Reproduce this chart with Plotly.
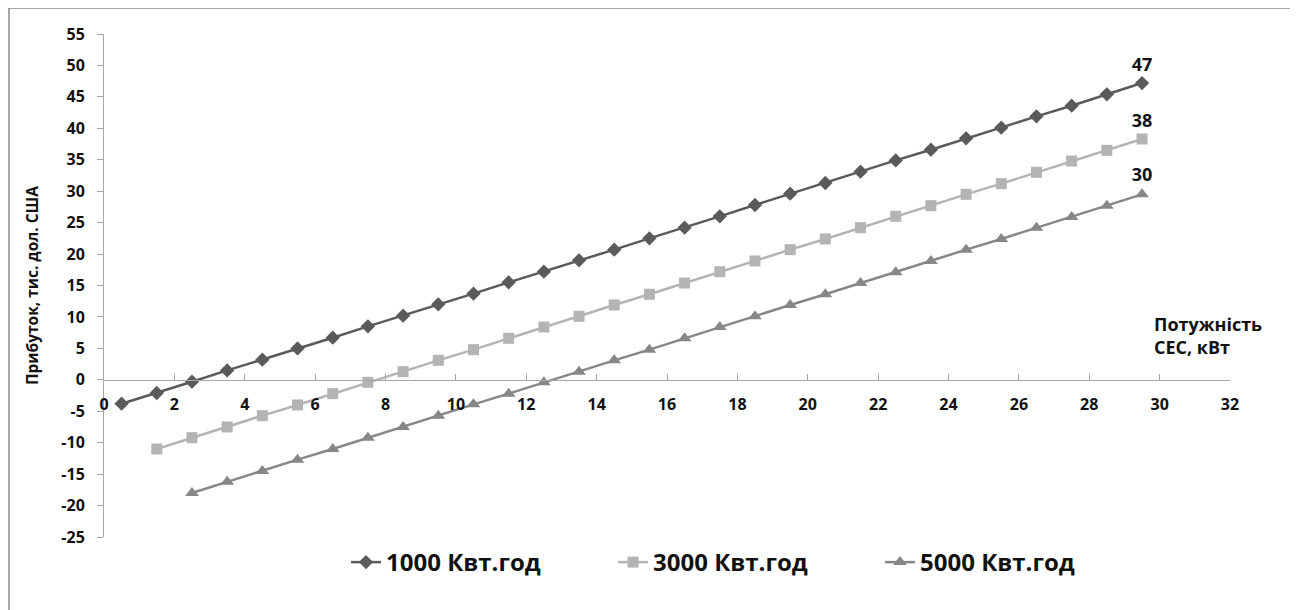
import plotly.graph_objects as go

# potужність СЕС, кВт
X_1000 = [0.5, 1.5, 2.5, 3.5, 4.5, 5.5, 6.5, 7.5, 8.5, 9.5, 10.5, 11.5, 12.5, 13.5, 14.5,
          15.5, 16.5, 17.5, 18.5, 19.5, 20.5, 21.5, 22.5, 23.5, 24.5, 25.5, 26.5, 27.5, 28.5, 29.5]
Y_1000 = [-3.8, -2.1, -0.3, 1.5, 3.2, 5.0, 6.7, 8.5, 10.2, 12.0, 13.7, 15.5, 17.2, 19.0, 20.7,
          22.5, 24.2, 26.0, 27.8, 29.6, 31.3, 33.1, 34.9, 36.6, 38.4, 40.1, 41.9, 43.6, 45.4, 47.2]

X_3000 = X_1000[1:]
Y_3000 = [-11.0, -9.2, -7.5, -5.7, -4.0, -2.2, -0.4, 1.3, 3.1, 4.8, 6.6, 8.4, 10.1, 11.9,
          13.6, 15.4, 17.2, 18.9, 20.7, 22.4, 24.2, 26.0, 27.7, 29.5, 31.2, 33.0, 34.8, 36.5, 38.3]

X_5000 = X_1000[2:]
Y_5000 = [-18.0, -16.2, -14.5, -12.7, -11.0, -9.2, -7.5, -5.7, -3.9, -2.2, -0.4, 1.3, 3.1,
          4.8, 6.6, 8.4, 10.1, 11.9, 13.6, 15.4, 17.1, 18.9, 20.7, 22.4, 24.2, 25.9, 27.7, 29.5]

END_LABELS = ['47', '38', '30']
NAMES = ['1000 Квт.год', '3000 Квт.год', '5000 Квт.год']

Y_TICKS = [-25, -20, -15, -10, -5, 0, 5, 10, 15, 20, 25, 30, 35, 40, 45, 50, 55]
Y_TICK_TEXT = [str(v) for v in Y_TICKS]  # plain hyphen minus like the original

FONT = 'Open Sans'

# page has an 8px body margin, so the figure is drawn a bit smaller
W, H = 1290, 602
L, R, T, B = 96, 68, 26, 73
PW, PH = W - L - R, H - T - B

series = [
    (X_1000, Y_1000, '#5a5a5a', 'diamond', 11),
    (X_3000, Y_3000, '#b4b4b4', 'square', 11),
    (X_5000, Y_5000, '#878787', 'triangle-up', 12),
]

fig = go.Figure()
for (xs, ys, color, symbol, size), name, lab in zip(series, NAMES, END_LABELS):
    txt = [''] * (len(xs) - 1) + [lab]
    fig.add_trace(go.Scatter(
        x=xs, y=ys, name=name,
        mode='lines+markers+text',
        text=txt, textposition='top center',
        textfont=dict(family=FONT, size=18, color='#111111', weight='bold'),
        line=dict(color=color, width=2.5),
        marker=dict(symbol=symbol, size=size, color=color),
    ))

fig.update_layout(
    width=W, height=H,
    margin=dict(l=L, r=R, t=T, b=B),
    paper_bgcolor='white', plot_bgcolor='white',
    font=dict(family=FONT, size=14, color='#111111'),
    showlegend=True,
    legend=dict(
        orientation='h', x=(338 - L) / PW, xanchor='left', y=-0.006, yanchor='top',
        entrywidth=222, entrywidthmode='pixels',
        font=dict(family=FONT, size=24, color='#111111', weight='bold'),
        itemwidth=30,
    ),
    xaxis=dict(
        range=[0, 32], dtick=2, tick0=0,
        anchor='free', position=25 / 80,
        showgrid=False, zeroline=False,
        showline=True, linecolor='#a6a6a6', linewidth=1,
        ticks='inside', ticklen=6, tickcolor='#a6a6a6',
        ticklabelstandoff=10,
        tickfont=dict(family=FONT, size=16, color='#111111', weight='bold'),
    ),
    yaxis=dict(
        range=[-25, 55], tickvals=Y_TICKS, ticktext=Y_TICK_TEXT,
        showgrid=False, zeroline=False,
        showline=True, linecolor='#a6a6a6', linewidth=1,
        ticks='outside', ticklen=6, tickcolor='#a6a6a6',
        ticklabelstandoff=9,
        tickfont=dict(family=FONT, size=16, color='#111111', weight='bold'),
        title=dict(text='Прибуток, тис. дол. США', standoff=18,
                   font=dict(family=FONT, size=15.5, color='#111111', weight='bold')),
    ),
)

fig.add_annotation(
    text='Потужність<br>СЕС, кВт', xref='paper', yref='paper',
    x=(1144 - L) / PW, y=(PH + T - 302) / PH, xanchor='left', yanchor='top',
    align='left', showarrow=False,
    font=dict(family=FONT, size=18, color='#111111', weight='bold'),
)

# chart frame
fig.add_shape(type='rect', xref='paper', yref='paper',
              x0=(1 - L) / PW, x1=(1284 - L) / PW,
              y0=(PH + T - 640) / PH, y1=(PH + T) / PH,
              line=dict(color='#8c8c8c', width=1.5), layer='below')

fig.write_html('out.html')
